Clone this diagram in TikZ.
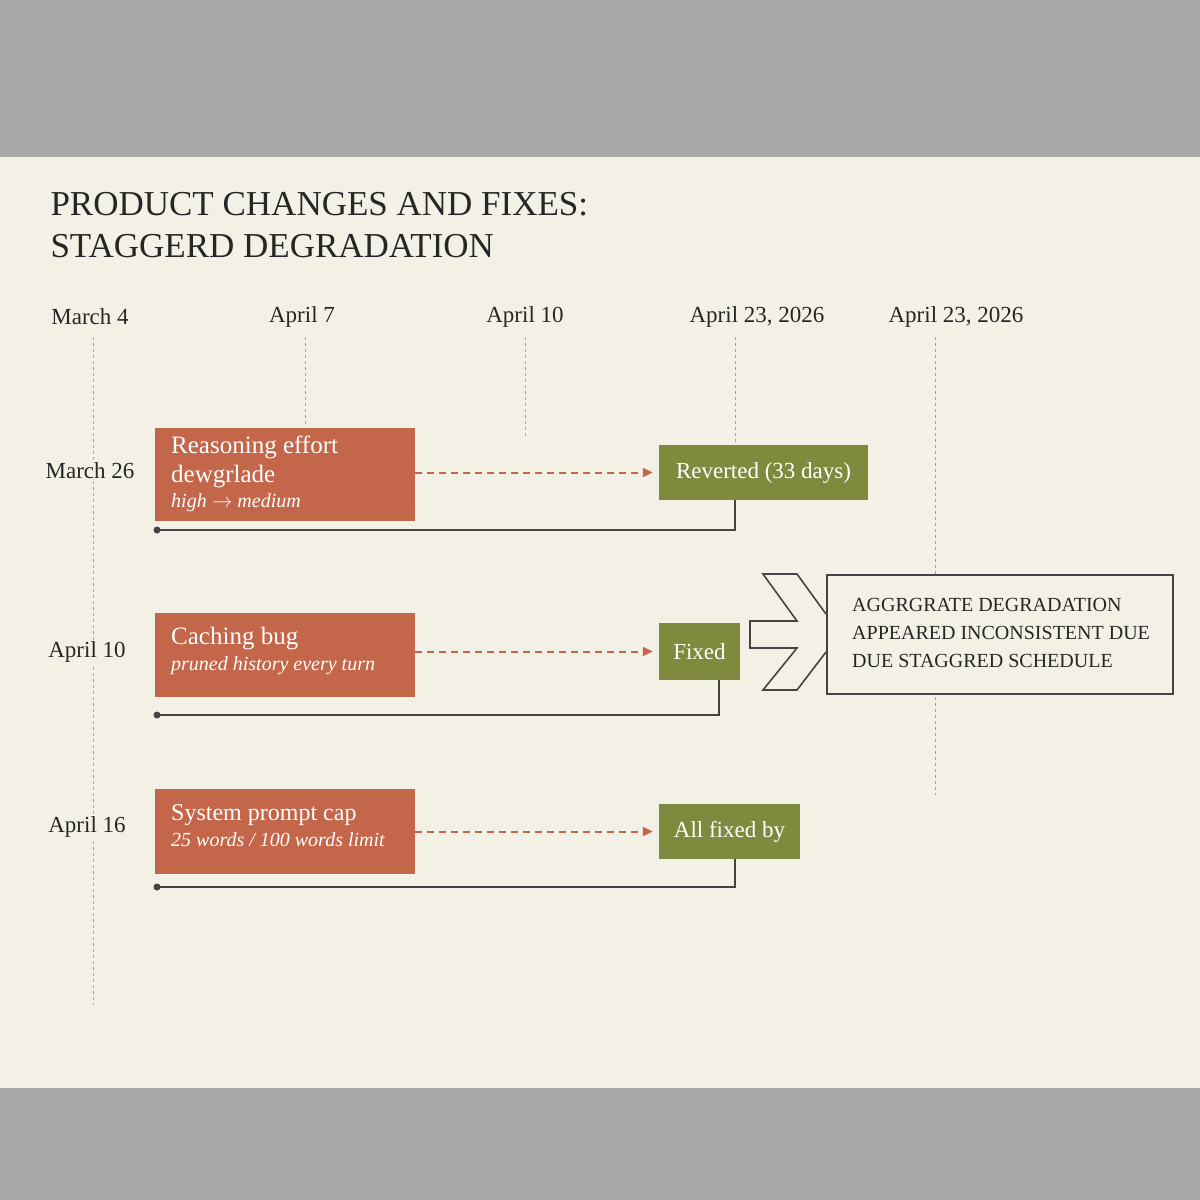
\documentclass[tikz,border=0pt]{standalone}
\usepackage{fontspec}
\setmainfont{Liberation Serif}
\usetikzlibrary{arrows.meta}
\definecolor{paper}{HTML}{F3F1E6}
\definecolor{band}{HTML}{A8A8A8}
\definecolor{rust}{HTML}{C4664A}
\definecolor{olive}{HTML}{7F8A3E}
\definecolor{ink}{HTML}{444444}
\tikzset{
  datelbl/.style={font=\fontsize{23}{25}\selectfont, text=black!85},
  rowlbl/.style={datelbl, fill=paper, inner sep=2pt},
  grid/.style={dashed, draw=black!35, line width=0.8pt},
  change/.style={fill=rust, anchor=north west, inner sep=0pt},
  changetxt/.style={anchor=north west, text=white, align=left, inner sep=0pt,
    font=\fontsize{25}{29}\selectfont},
  fix/.style={fill=olive, text=white, font=\fontsize{23}{25}\selectfont, inner sep=0pt},
  link/.style={draw=rust, line width=2pt, dash pattern=on 7pt off 5pt,
    -{Triangle[length=10pt,width=9pt]}},
  track/.style={draw=ink, line width=1.6pt}
}
\begin{document}
\begin{tikzpicture}[x=1pt, y=-1pt]
  \fill[band] (0,0) rectangle (1200,1200);
  \fill[paper] (0,157) rectangle (1200,1088);

  \node[anchor=north west, align=left, font=\fontsize{35}{42}\selectfont, text=black!85]
    (title) at (47,189) {PRODUCT CHANGES AND FIXES:\\STAGGERD DEGRADATION};

  % date columns
  \node[datelbl] (d1) at (90,317) {March 4};
  \node[datelbl] (d2) at (302,317) {April 7};
  \node[datelbl] (d3) at (525,317) {April 10};
  \node[datelbl] (d4) at (757,317) {April 23, 2026};
  \node[datelbl] (d5) at (956,317) {April 23, 2026};
  \draw[grid] (93,337) -- (93,1005);
  \draw[grid] (305,337) -- (305,427);
  \draw[grid] (525,337) -- (525,437);
  \draw[grid] (735,337) -- (735,443);
  \draw[grid] (935,337) -- (935,795);

  % rows
  \node[rowlbl] (r1) at (90,471) {March 26};
  \node[rowlbl] (r2) at (87,652) {April 10};
  \node[rowlbl] (r3) at (87,827) {April 16};

  \node[change, minimum width=260pt, minimum height=93pt] (c1) at (155,428) {};
  \node[changetxt] (t1) at (171,436)
    {Reasoning effort\\dewgrlade\\[-4pt]{\fontsize{20}{22}\selectfont\itshape high \(\rightarrow\) medium}};
  \node[change, minimum width=260pt, minimum height=84pt] (c2) at (155,613) {};
  \node[changetxt] (t2) at (171,627)
    {Caching bug\\[-3pt]{\fontsize{20}{22}\selectfont\itshape pruned history every turn}};
  \node[change, minimum width=260pt, minimum height=85pt] (c3) at (155,789) {};
  \node[changetxt, font=\fontsize{24}{29}\selectfont] (t3) at (171,804)
    {System prompt cap\\[-3pt]{\fontsize{20}{22}\selectfont\itshape 25 words / 100 words limit}};

  \node[fix, minimum width=209pt, minimum height=55pt] (f1) at (763.5,472.5) {Reverted (33 days)};
  \node[fix, minimum width=81pt, minimum height=57pt] (f2) at (699.5,651.5) {Fixed};
  \node[fix, minimum width=141pt, minimum height=55pt] (f3) at (729.5,831.5) {All fixed by};

  \draw[link] (c1.east |- f1) -- ([xshift=-6pt]f1.west);
  \draw[link] (c2.east |- f2) -- ([xshift=-6pt]f2.west);
  \draw[link] (c3.east |- f3) -- ([xshift=-6pt]f3.west);

  \fill[ink] (157,530) circle (3.5pt);
  \draw[track] (157,530) -- (735,530) -- (735,500);
  \fill[ink] (157,715) circle (3.5pt);
  \draw[track] (157,715) -- (719,715) -- (719,680);
  \fill[ink] (157,887) circle (3.5pt);
  \draw[track] (157,887) -- (735,887) -- (735,859);

  % callout
  \node[draw=ink, line width=1.6pt, fill=paper, anchor=north west, minimum width=346pt,
        minimum height=119pt] (note) at (826,574) {};
  \node[anchor=north west, align=left, inner sep=0pt, text=black!85,
        font=\fontsize{20}{28}\selectfont] (notetxt) at (852,598)
    {AGGRGRATE DEGRADATION\\APPEARED INCONSISTENT DUE\\DUE STAGGRED SCHEDULE};
  \draw[ink, line width=1.6pt, line join=miter]
    (826,614) -- (797,574) -- (763,574) -- (797,621) -- (750,621) -- (750,648)
    -- (797,648) -- (763,690) -- (797,690) -- (826,652);
\end{tikzpicture}
\end{document}
